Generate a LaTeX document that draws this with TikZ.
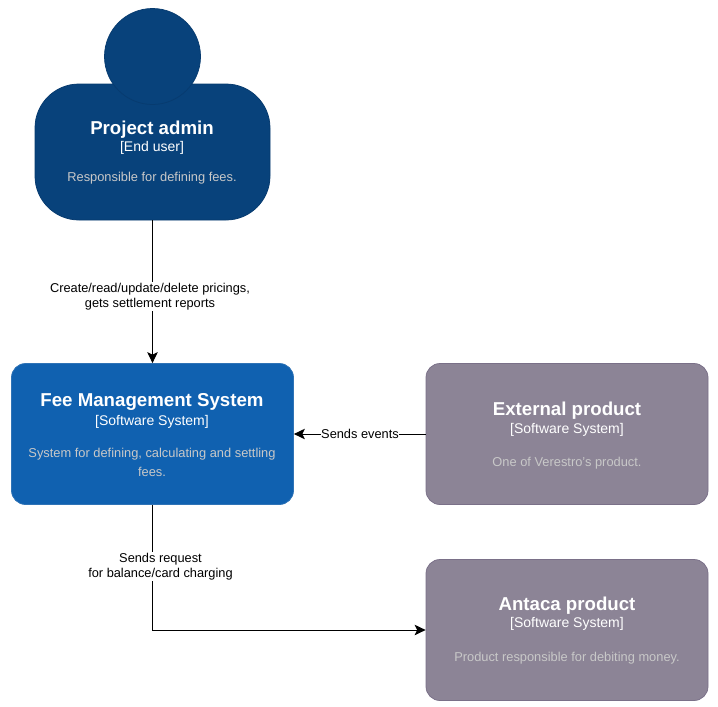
\documentclass[tikz,border=0pt]{standalone}
\usepackage{fontspec}
\setmainfont{Liberation Sans}
\usetikzlibrary{arrows.meta}
\definecolor{persfill}{HTML}{08427B}
\definecolor{persline}{HTML}{073B6F}
\definecolor{sysfill}{HTML}{1061B0}
\definecolor{sysline}{HTML}{2F73B6}
\definecolor{extfill}{HTML}{8C8496}
\definecolor{extline}{HTML}{7A7088}
\definecolor{desccol}{HTML}{C8C8C8}
\tikzset{
  x=1pt,y=-1pt,
  boxbase/.style={rounded corners=14pt,minimum width=282pt,minimum height=141pt,inner sep=0pt,line width=.75pt},
  sysbox/.style={boxbase,draw=sysline,fill=sysfill},
  extbox/.style={boxbase,draw=extline,fill=extfill},
  headtxt/.style={text=white,font=\bfseries\fontsize{18.67}{20}\selectfont,inner sep=0pt},
  subtxt/.style={text=white,font=\fontsize{14}{16}\selectfont,inner sep=0pt},
  desctxt/.style={text=desccol,font=\fontsize{12.85}{16}\selectfont,inner sep=0pt},
  conn/.style={draw=black,line width=1pt,-{Stealth[length=11pt,width=10.5pt,inset=2.5pt]}},
  lbl/.style={fill=white,text=black,font=\fontsize{12.8}{15.3}\selectfont,inner sep=.5pt,align=center}
}
\begin{document}
\begin{tikzpicture}
\useasboundingbox (0,0) rectangle (718,707);
% person
\node[draw=persline,fill=persfill,line width=.75pt,rounded corners=44pt,minimum width=235pt,minimum height=136pt,inner sep=0pt] (admin) at (152.5,152) {};
\node[circle,draw=persline,fill=persfill,line width=.75pt,minimum size=96pt,inner sep=0pt] (head) at (152.5,56.5) {};
\node[headtxt] (adminT) at (152,130) {Project admin};
\node[subtxt] (adminS) at (152,147.5) {[End user]};
\node[desctxt] (adminD) at (152,178.5) {Responsible for defining fees.};
% systems
\node[sysbox] (fee) at (152.5,434) {};
\node[headtxt] (feeT) at (152,402) {Fee Management System};
\node[subtxt] (feeS) at (152,421.5) {[Software System]};
\node[desctxt] (feeD1) at (152,454.5) {System for defining, calculating and settling};
\node[desctxt] (feeD2) at (152,471.5) {fees.};
\node[extbox] (ext) at (567,434) {};
\node[headtxt] (extT) at (567,411) {External product};
\node[subtxt] (extS) at (567,429.5) {[Software System]};
\node[desctxt] (extD) at (567,463.5) {One of Verestro's product.};
\node[extbox] (ant) at (567,630) {};
\node[headtxt] (antT) at (567,606) {Antaca product};
\node[subtxt] (antS) at (567,624) {[Software System]};
\node[desctxt] (antD) at (567,658.5) {Product responsible for debiting money.};
% connectors
\draw[conn] (admin.south) -- (fee.north);
\draw[conn] (ext.west) -- (fee.east);
\draw[conn] (fee.south) |- (ant.west);
\node[lbl] (l1) at (150,296.5) {Create/read/update/delete pricings,\\gets settlement reports};
\node[lbl] (l2) at (360,434) {Sends events};
\node[lbl] (l3) at (160.5,566.5) {Sends request\\for balance/card charging};
\end{tikzpicture}
\end{document}
